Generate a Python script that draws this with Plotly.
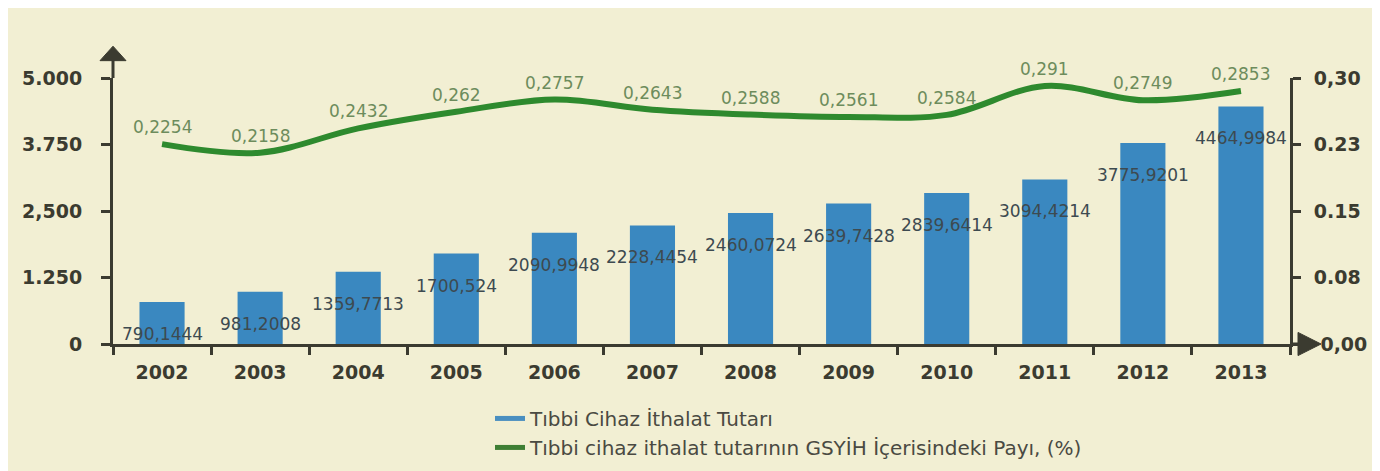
import plotly.graph_objects as go

# ---------------- data ----------------
years = ["2002", "2003", "2004", "2005", "2006", "2007",
         "2008", "2009", "2010", "2011", "2012", "2013"]
import_values = [790.1444, 981.2008, 1359.7713, 1700.524, 2090.9948, 2228.4454,
                 2460.0724, 2639.7428, 2839.6414, 3094.4214, 3775.9201, 4464.9984]
gdp_share = [0.2254, 0.2158, 0.2432, 0.262, 0.2757, 0.2643,
             0.2588, 0.2561, 0.2584, 0.291, 0.2749, 0.2853]
left_tick_vals = [0, 1250, 2500, 3750, 5000]
left_tick_text = ["0", "1.250", "2,500", "3.750", "5.000"]
right_tick_vals = [0, 0.075, 0.15, 0.225, 0.30]
right_tick_text = ["\u00a00,00", "0.08", "0.15", "0.23", "0,30"]
series_names = ["Tıbbi Cihaz İthalat Tutarı",
                "Tıbbi cihaz ithalat tutarının GSYİH İçerisindeki Payı, (%)"]

# ---------------- style ----------------
W, H = 1380, 471
ML, MR, MT, MB = 105, 98, 70, 125
PW, PH = W - ML - MR, H - MT - MB
BG = "#f2efd3"
AXIS = "#3b3b30"
BAR = "#3a88c0"
LINE = "#2e8a2e"
LINE_TXT = "#6d8c5c"
BAR_TXT = "#3d4a50"
LABEL_FONT = "DejaVu Sans"


def px_x(p):
    return (p - ML) / PW


def px_y(p):
    return (H - MB - p) / PH


def fmt(v):
    return repr(v).replace(".", ",")


fig = go.Figure()

fig.add_trace(go.Bar(
    x=years, y=import_values, marker=dict(color=BAR, line=dict(width=0)),
    showlegend=False, hoverinfo="x+y"))

fig.add_trace(go.Scatter(
    x=years, y=gdp_share, yaxis="y2", mode="lines",
    line=dict(color=LINE, width=6, shape="spline", smoothing=1.0),
    showlegend=False, hoverinfo="x+y"))

# legend entries
fig.add_trace(go.Scatter(x=[years[0]], y=[None], mode="lines",
                         line=dict(color="#4a8fc0", width=5), name=series_names[0]))
fig.add_trace(go.Scatter(x=[years[0]], y=[None], mode="lines",
                         line=dict(color="#3f7f34", width=5), name=series_names[1]))

annotations = []
for i, v in enumerate(import_values):
    annotations.append(dict(x=i, y=v, xref="x", yref="y", text=fmt(v),
                            showarrow=False, yshift=-32,
                            font=dict(family=LABEL_FONT, size=17, color=BAR_TXT)))
for i, v in enumerate(gdp_share):
    annotations.append(dict(x=i, y=v, xref="x", yref="y2", text=fmt(v),
                            showarrow=False, yshift=17,
                            font=dict(family=LABEL_FONT, size=17, color=LINE_TXT)))

shapes = [
    # left axis extension up to arrow
    dict(type="line", xref="paper", yref="paper", x0=0, x1=0, y0=1, y1=px_y(50),
         line=dict(color=AXIS, width=3)),
    dict(type="path", xref="paper", yref="paper",
         path=f"M {px_x(ML-13)} {px_y(52)} L {px_x(ML+13)} {px_y(52)} L 0 {px_y(37)} Z",
         fillcolor=AXIS, line=dict(color=AXIS, width=1)),
    # x axis extension to arrow
    dict(type="line", xref="paper", yref="paper", x0=1, x1=px_x(1292), y0=0, y1=0,
         line=dict(color=AXIS, width=3)),
    dict(type="path", xref="paper", yref="paper",
         path=f"M {px_x(1290)} {px_y(H-MB-12)} L {px_x(1290)} {px_y(H-MB+12)} L {px_x(1313)} 0 Z",
         fillcolor=AXIS, line=dict(color=AXIS, width=1)),
]

tick_font = dict(family="DejaVu Sans", size=19, color=AXIS, weight="bold")

fig.update_layout(
    width=W, height=H,
    margin=dict(l=ML, r=MR, t=MT, b=MB, pad=0),
    paper_bgcolor=BG, plot_bgcolor=BG,
    bargap=0.54,
    xaxis=dict(type="category", categoryorder="array", categoryarray=years,
               range=[-0.5, len(years) - 0.5], autorange=False,
               showline=True, linecolor=AXIS, linewidth=3,
               ticks="outside", tickson="boundaries", ticklen=8, tickwidth=3,
               tickcolor=AXIS, tickfont=tick_font, ticklabelstandoff=9,
               tickangle=0, showgrid=False, zeroline=False),
    yaxis=dict(range=[0, 5000], tickvals=left_tick_vals, ticktext=left_tick_text,
               showline=True, linecolor=AXIS, linewidth=3, ticks="outside",
               ticklen=9, tickwidth=3, tickcolor=AXIS, tickfont=tick_font,
               ticklabelstandoff=15, showgrid=False, zeroline=False),
    yaxis2=dict(range=[0, 0.30], tickvals=right_tick_vals, ticktext=right_tick_text,
                overlaying="y", side="right", showline=True, linecolor=AXIS,
                linewidth=3, ticks="outside", ticklen=8, tickwidth=3,
                tickcolor=AXIS, tickfont=tick_font, ticklabelstandoff=9,
                showgrid=False, zeroline=False),
    legend=dict(x=px_x(482), y=px_y(403), xanchor="left", yanchor="top",
                bgcolor="rgba(0,0,0,0)", tracegroupgap=0,
                font=dict(family="DejaVu Sans", size=20, color="#4a4a42")),
    annotations=annotations,
    shapes=shapes,
    showlegend=True,
)

fig.write_html("out.html")
